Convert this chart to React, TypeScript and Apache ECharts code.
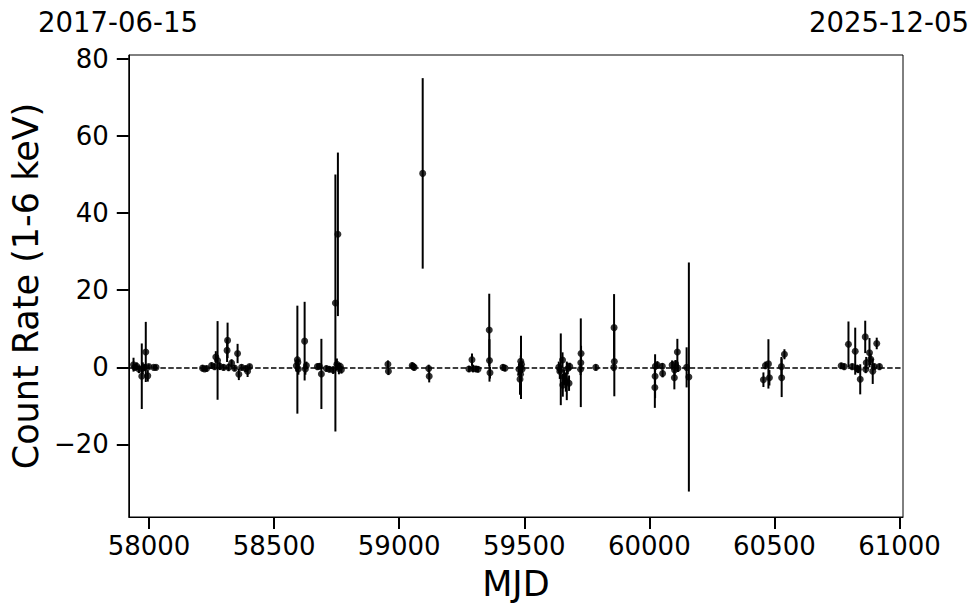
import React, { useEffect, useRef } from "react";
import * as echarts from "echarts";

// MJD of each observation
const mjd = [
  57938, 57943, 57951, 57960, 57971, 57975, 57987, 57983, 57995, 57999, 58019, 58028,
  58214, 58222, 58230, 58250, 58262, 58267, 58274, 58283, 58298, 58312, 58314, 58318,
  58330, 58342, 58354, 58359, 58370, 58386, 58394, 58402,
  58589, 58593, 58595, 58597, 58622, 58625, 58629, 58673, 58681, 58689, 58709, 58721,
  58736, 58745, 58751, 58755, 58759, 58765, 58769,
  58955, 58957, 59052, 59056, 59060, 59094, 59118, 59120,
  59279, 59291, 59295, 59307, 59315, 59360, 59361, 59363, 59415, 59423,
  59479, 59487, 59486, 59489, 59485, 59483, 59491,
  59638, 59642, 59646, 59653, 59654, 59659, 59666, 59670, 59679, 59674, 59682,
  59726, 59727, 59725, 59786, 59859, 59860, 59858,
  60022, 60023, 60024, 60032, 60052, 60053, 60091, 60100, 60101, 60105, 60112, 60114,
  60149, 60158,
  60456, 60464, 60476, 60480, 60528, 60529, 60540,
  60767, 60779, 60796, 60811, 60823, 60831, 60835, 60843, 60863, 60867, 60865, 60880,
  60885, 60893, 60899, 60909, 60920,
];
// Count rate (1-6 keV)
const rate = [
  0.7, 0.0, 0.3, -0.5, -2.3, -0.2, 4.0, 0.0, -2.2, 0.2, 0.0, 0.0,
  -0.2, -0.4, -0.3, 0.5, 0.2, 2.7, 1.8, 0.3, 0.0, 4.4, 7.0, 0.0,
  1.1, -0.2, 3.6, -1.8, 0.0, -0.3, -1.0, 0.2,
  0.4, 2.0, 1.3, -0.4, 6.8, -0.4, 0.5, 0.2, 0.3, -1.7, -0.3, -0.5,
  -0.7, 16.7, 0.8, 34.5, -0.3, 0.2, -0.6,
  0.8, -1.0, 0.5, 0.2, 0.0, 50.3, -0.3, -2.3,
  -0.4, 2.0, -0.3, -0.4, -0.5, 9.7, 1.8, -1.4, 0.0, -0.2,
  -0.5, 0.0, 1.6, 0.8, -1.8, -3.1, -0.5,
  0.0, -1.0, -0.5, 1.9, -4.6, -2.5, -3.8, -3.5, -4.1, -0.3, 0.2,
  1.2, 3.6, -0.5, 0.0, 10.3, 1.5, 0.0,
  -5.2, -2.3, 0.3, 0.6, 0.3, -1.6, 0.6, -2.7, -0.7, 0.9, 4.0, -0.2,
  0.0, -2.5,
  -3.2, 0.5, 0.9, -2.7, 0.2, -2.7, 3.4,
  0.4, 0.2, 6.0, 0.2, 4.2, -0.3, -0.5, -3.1, 7.9, 1.2, -0.5, 3.8,
  2.1, -1.0, 0.2, 6.2, 0.2,
];
// 1-sigma error
const rateErr = [
  1.8, 0.8, 1.0, 1.0, 8.5, 1.5, 7.8, 0.8, 1.5, 0.6, 0.5, 0.6,
  0.8, 0.6, 0.8, 0.8, 0.8, 1.5, 10.2, 1.0, 0.8, 3.0, 4.6, 1.0,
  1.0, 0.8, 2.5, 1.5, 0.8, 0.8, 1.5, 0.6,
  1.5, 14.0, 1.0, 1.5, 10.2, 1.5, 1.0, 0.8, 0.8, 9.1, 0.8, 0.8,
  1.0, 33.3, 1.5, 21.2, 1.5, 1.0, 1.0,
  1.0, 1.0, 0.8, 0.8, 0.8, 24.7, 1.0, 1.6,
  0.8, 1.6, 1.0, 0.8, 0.8, 9.4, 5.5, 1.5, 0.8, 0.8,
  1.5, 8.2, 1.5, 1.0, 3.0, 4.0, 1.0,
  1.5, 2.0, 9.3, 2.0, 3.0, 2.0, 2.5, 5.0, 2.0, 1.5, 1.0,
  11.5, 2.0, 1.5, 0.8, 8.7, 9.0, 1.0,
  5.3, 5.7, 1.0, 1.0, 0.8, 1.0, 1.2, 3.0, 1.5, 1.0, 3.4, 1.0,
  5.2, 29.7,
  1.9, 1.0, 6.4, 2.0, 2.5, 5.0, 1.3,
  0.8, 0.8, 5.9, 0.8, 6.1, 1.0, 1.0, 3.9, 4.2, 1.5, 1.0, 3.8,
  1.5, 3.3, 0.8, 1.5, 0.8,
];

const xTicks = [58000, 58500, 59000, 59500, 60000, 60500, 61000];
const yTicks = [-20, 0, 20, 40, 60, 80];
const startDate = "2017-06-15";
const endDate = "2025-12-05";

const FONT = "DejaVu Sans";

export default function App() {
  const ref = useRef<HTMLDivElement>(null);
  useEffect(() => {
    if (!ref.current) return;
    const chart = echarts.init(ref.current, null, { renderer: "svg" });
    const data = mjd.map((m, i) => [m, rate[i], rateErr[i]]);
    chart.setOption({
      animation: false,
      backgroundColor: "#fff",
      grid: {
        left: 127,
        top: 55,
        width: 776,
        height: 462,
        show: true,
        borderColor: "#000",
        borderWidth: 1,
        backgroundColor: "transparent",
      },
      xAxis: {
        type: "value",
        min: 57919,
        max: 61014,
        name: "MJD",
        nameLocation: "middle",
        nameGap: 49,
        nameTextStyle: { fontFamily: FONT, fontSize: 35, color: "#000" },
        axisLine: { show: true, onZero: false, lineStyle: { color: "#000", width: 1 } },
        axisTick: {
          show: true,
          inside: false,
          length: 12,
          lineStyle: { color: "#000", width: 2 },
          customValues: xTicks,
        },
        axisLabel: {
          fontFamily: FONT,
          fontSize: 26,
          color: "#000",
          margin: 16,
          customValues: xTicks,
          formatter: (v: number) => String(v),
        },
        splitLine: { show: false },
      },
      yAxis: {
        type: "value",
        min: -38.8,
        max: 81,
        name: "Count Rate (1-6 keV)",
        nameLocation: "middle",
        nameGap: 85,
        nameRotate: 90,
        nameTextStyle: { fontFamily: FONT, fontSize: 35, color: "#000" },
        axisLine: { show: true, onZero: false, lineStyle: { color: "#000", width: 1 } },
        axisTick: {
          show: true,
          inside: false,
          length: 12,
          lineStyle: { color: "#000", width: 2 },
          customValues: yTicks,
        },
        axisLabel: {
          fontFamily: FONT,
          fontSize: 26,
          color: "#000",
          margin: 20,
          customValues: yTicks,
          formatter: (v: number) => String(v).replace("-", "\u2212"),
        },
        splitLine: { show: false },
      },
      graphic: [
        {
          type: "text",
          x: 118,
          y: 22,
          style: {
            text: startDate,
            fontFamily: FONT,
            fontSize: 27.5,
            fill: "#000",
            align: "center",
            verticalAlign: "middle",
          },
        },
        {
          type: "text",
          x: 889,
          y: 22,
          style: {
            text: endDate,
            fontFamily: FONT,
            fontSize: 27.5,
            fill: "#000",
            align: "center",
            verticalAlign: "middle",
          },
        },
      ],
      series: [
        {
          type: "custom",
          data,
          encode: { x: 0, y: 1 },
          renderItem: (params: any, api: any) => {
            const x = api.value(0);
            const y = api.value(1);
            const e = api.value(2);
            const top = api.coord([x, y + e]);
            const bot = api.coord([x, y - e]);
            return {
              type: "line",
              shape: { x1: top[0], y1: top[1], x2: bot[0], y2: bot[1] },
              style: { stroke: "#000", lineWidth: 2 },
            };
          },
          z: 2,
        },
        {
          type: "scatter",
          data: data.map((d) => [d[0], d[1]]),
          symbol: "circle",
          symbolSize: 7,
          itemStyle: { color: "#000" },
          z: 3,
          markLine: {
            silent: true,
            symbol: ["none", "none"],
            label: { show: false },
            lineStyle: { color: "#000", width: 1.5, type: [5.5, 2.4] },
            data: [{ yAxis: 0 }],
          },
        },
      ],
    });
    return () => chart.dispose();
  }, []);
  return (
    <div
      ref={ref}
      style={{ position: "fixed", left: 0, top: 0, width: 980, height: 613, background: "#fff" }}
    />
  );
}
